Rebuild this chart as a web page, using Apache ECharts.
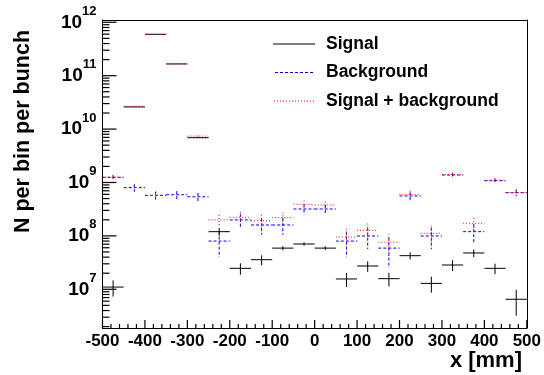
<!DOCTYPE html>
<html><head><meta charset="utf-8">
<script src="https://cdn.jsdelivr.net/npm/echarts@6/dist/echarts.min.js"></script>
<style>html,body{margin:0;padding:0;background:#fff}#c{width:544px;height:375px}</style>
</head><body><div id="c"></div>
<script>
// ---- data ----
const binCenters = [-475,-425,-375,-325,-275,-225,-175,-125,-75,-25,25,75,125,175,225,275,325,375,425,475];
const binWidth = 50;
const signal      = [1.1e7, 2.6e10, 5.96e11, 1.66e11, 6.9e9, 1.2e8, 2.47e7, 3.58e7, 5.9e7, 7.05e7, 5.9e7, 1.56e7, 2.73e7, 1.58e7, 4.26e7, 1.29e7, 2.85e7, 4.79e7, 2.47e7, 6.5e6];
const signalErr   = [3.7e6, 2e8, 2e9, 1e9, 8e7, 2e7, 6e6, 7.5e6, 5e6, 5e6, 5e6, 4.6e6, 6.1e6, 4.5e6, 6.5e6, 4.3e6, 6.5e6, 7.8e6, 5.5e6, 3.3e6];
const background    = [1.25e9, 8.0e8, 5.75e8, 5.9e8, 5.4e8, 8.0e7, 1.99e8, 1.6e8, 1.6e8, 3.19e8, 3.19e8, 8.0e7, 9.95e7, 5.9e7, 5.6e8, 9.95e7, 1.38e9, 1.2e8, 1.08e9, 6.44e8];
const backgroundErr = [1.1e8, 1.3e8, 1.0e8, 1.0e8, 0.95e8, 4e7, 6e7, 5.5e7, 5.5e7, 7e7, 6e7, 4e7, 4.3e7, 3.4e7, 1e8, 4.3e7, 1.2e8, 4.6e7, 1e8, 9e7];
const signalPlusBg    = [1.26e9, 2.68e10, 5.97e11, 1.66e11, 7.4e9, 2.0e8, 2.23e8, 1.92e8, 2.2e8, 3.9e8, 3.78e8, 9.5e7, 1.27e8, 7.6e7, 6.0e8, 1.12e8, 1.41e9, 1.72e8, 1.1e9, 6.5e8];
const signalPlusBgErr = [1.1e8, 2.4e8, 2e9, 1e9, 1.2e8, 4.6e7, 6e7, 5.6e7, 5.6e7, 7e7, 6.2e7, 4.1e7, 4.4e7, 3.4e7, 1e8, 4.3e7, 1.2e8, 4.6e7, 1e8, 9e7];
const yTickExponents = [7, 8, 9, 10, 11, 12];
const xTickLabels = [-500,-400,-300,-200,-100,0,100,200,300,400,500];

// ---- helpers ----
const FONT = '"Liberation Sans", Arial, Helvetica, sans-serif';
const X_MIN = -500, X_MAX = 500, Y_MIN = 6.275, Y_MAX = 12.043;
function toRows(vals, errs) {
  return binCenters.map((x, i) => [
    x,
    Math.log10(vals[i]),
    Math.log10(vals[i] + errs[i]),
    Math.log10(Math.max(vals[i] - errs[i], vals[i] * 1e-3))
  ]);
}
function makeRender(color, dash) {
  return function (params, api) {
    const x = api.value(0), y = api.value(1), hi = api.value(2), lo = api.value(3);
    const h = binWidth / 2;
    const a = api.coord([x - h, y]), b = api.coord([x + h, y]);
    const t = api.coord([x, hi]), d = api.coord([x, lo]);
    const st = () => ({ stroke: color, lineWidth: 1, lineDash: dash, fill: null });
    return {
      type: 'group',
      children: [
        { type: 'line', shape: { x1: a[0], y1: a[1], x2: b[0], y2: b[1] }, style: st() },
        { type: 'line', shape: { x1: t[0], y1: t[1], x2: d[0], y2: d[1] }, style: st() }
      ]
    };
  };
}
// tick definitions: [x, y, length, direction(0 = up from bottom axis, 1 = right from left axis)]
const tickDefs = [];
xTickLabels.forEach(v => tickDefs.push([v, Y_MIN, 8, 0]));
for (let v = -480; v < 500; v += 20) if (v % 100 !== 0) tickDefs.push([v, Y_MIN, 4, 0]);
yTickExponents.forEach(e => tickDefs.push([X_MIN, e, 14, 1]));
for (let n = 6; n <= 12; n++) for (let k = 2; k <= 9; k++) {
  const lv = Math.log10(k * Math.pow(10, n));
  if (lv > Y_MIN && lv < Y_MAX) tickDefs.push([X_MIN, lv, 7, 1]);
}

function dashedPath(seg, gap, total) {
  let p = 'path://';
  for (let x = 0; x + seg <= total; x += seg + gap) p += 'M' + x + ',0h' + seg + 'v1h-' + seg + 'z';
  return p;
}
const line = () => ({ color: '#000', width: 1 });
const titleGraphics = [
  { id: 'ytitle', type: 'text', x: 23.5, y: 131.5, rotation: Math.PI / 2,
    style: { text: 'N per bin per bunch', font: 'bold 21.5px ' + FONT, fill: '#000', align: 'center', verticalAlign: 'middle' } },
  { id: 'xtitle', type: 'text', x: 522, y: 361,
    style: { text: 'x [mm]', font: 'bold 22px ' + FONT, fill: '#000', align: 'right', verticalAlign: 'middle' } }
];

const chart = echarts.init(document.getElementById('c'), null, { renderer: 'canvas' });
chart.setOption({
  animation: false,
  grid: { left: 102.5, top: 20, width: 424.5, height: 308 },
  legend: {
    orient: 'vertical', left: 268, top: 29, padding: 5,
    itemWidth: 42, itemHeight: 1, itemGap: 8.5,
    textStyle: { fontFamily: FONT, fontWeight: 'bold', fontSize: 17.5, color: '#000', lineHeight: 20, padding: [0, 0, 0, 6] },
    data: [
      { name: 'Signal', icon: 'path://M0,0h42v1h-42z', itemStyle: { color: '#000' } },
      { name: 'Background', icon: dashedPath(3, 2, 42), itemStyle: { color: '#0000ff' } },
      { name: 'Signal + background', icon: dashedPath(1, 2, 42), itemStyle: { color: '#ff0000' } }
    ],
    selectedMode: false
  },
  xAxis: [{
    type: 'value', min: X_MIN, max: X_MAX, interval: 100, position: 'bottom',
    axisLine: { show: true, onZero: false, lineStyle: line() },
    axisTick: { show: false },
    splitLine: { show: false },
    axisLabel: { margin: 5, color: '#000', fontFamily: FONT, fontWeight: 'bold', fontSize: 17, formatter: v => String(v) }
  }, {
    type: 'value', min: X_MIN, max: X_MAX, interval: 100, position: 'top',
    axisLine: { show: true, onZero: false, lineStyle: line() },
    axisTick: { show: false }, axisLabel: { show: false }, splitLine: { show: false }
  }],
  yAxis: [{
    type: 'value', min: Y_MIN, max: Y_MAX, position: 'left',
    axisLine: { show: true, onZero: false, lineStyle: line() },
    axisTick: { show: false },
    splitLine: { show: false },
    axisLabel: {
      margin: 6, color: '#000', customValues: yTickExponents,
      formatter: v => '{b|10}{s|' + Math.round(v) + '}',
      rich: {
        b: { fontFamily: FONT, fontWeight: 'bold', fontSize: 19, lineHeight: 19, color: '#000' },
        s: { fontFamily: FONT, fontWeight: 'bold', fontSize: 13, lineHeight: 13, padding: [0, 0, 22, 0], color: '#000' }
      }
    }
  }, {
    type: 'value', min: Y_MIN, max: Y_MAX, position: 'right',
    axisLine: { show: true, onZero: false, lineStyle: line() },
    axisTick: { show: false }, axisLabel: { show: false }, splitLine: { show: false }
  }],
  graphic: titleGraphics,
  series: [
    { name: 'Signal', type: 'custom', clip: true, itemStyle: { color: '#000' },
      encode: { x: 0, y: 1 }, data: toRows(signal, signalErr), renderItem: makeRender('#000', null) },
    { name: 'Background', type: 'custom', clip: true, itemStyle: { color: '#0000ff' },
      encode: { x: 0, y: 1 }, data: toRows(background, backgroundErr), renderItem: makeRender('#0000ff', [3, 2]) },
    { name: 'Signal + background', type: 'custom', clip: true, itemStyle: { color: '#ff0000' },
      encode: { x: 0, y: 1 }, data: toRows(signalPlusBg, signalPlusBgErr), renderItem: makeRender('#ff0000', [1, 2]) }
  ]
});

// axis ticks positioned through the chart's own scales
const tickGraphics = tickDefs.map((t, i) => {
  const p = chart.convertToPixel({ xAxisIndex: 0, yAxisIndex: 0 }, [t[0], t[1]]);
  const shape = t[3] === 0
    ? { x1: p[0], y1: p[1], x2: p[0], y2: p[1] - t[2] }
    : { x1: p[0], y1: p[1], x2: p[0] + t[2], y2: p[1] };
  return { id: 'tick' + i, type: 'line', silent: true, z: 50, shape: shape, style: { stroke: '#000', lineWidth: 1.2 } };
});
chart.setOption({ graphic: titleGraphics.concat(tickGraphics) });
</script></body></html>
